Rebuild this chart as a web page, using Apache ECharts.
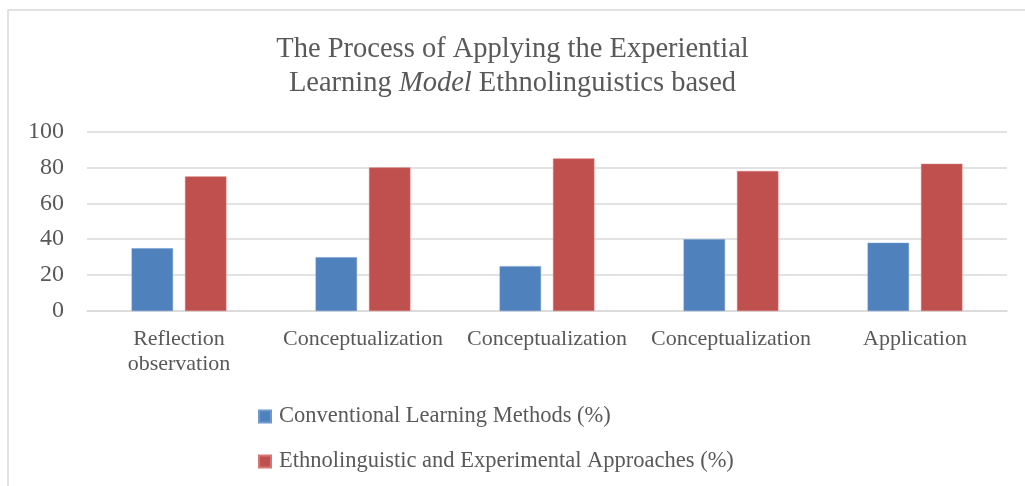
<!DOCTYPE html>
<html>
<head>
<meta charset="utf-8">
<script src="https://cdn.jsdelivr.net/npm/echarts@6/dist/echarts.min.js"></script>
<style>
html, body { margin: 0; padding: 0; background: #fff; }
#chart { width: 1025px; height: 486px; }
</style>
</head>
<body>
<div id="chart"></div>
<script>
var categories = ['Reflection\nobservation', 'Conceptualization', 'Conceptualization', 'Conceptualization', 'Application'];
var conventional = [35, 30, 25, 40, 38];
var ethnolinguistic = [75, 80, 85, 78, 82];
var seriesNames = ['Conventional Learning Methods (%)', 'Ethnolinguistic and Experimental Approaches (%)'];

var FONT = '"Liberation Serif", serif';
var TXT = '#595959';

var option = {
    animation: false,
    // frame of the chart area (goes off the right and bottom edge)
    graphic: [{
        type: 'rect',
        shape: { x: 8, y: 10, width: 1100, height: 600 },
        style: { fill: null, stroke: '#d9d9d9', lineWidth: 1.5 },
        silent: true
    }],
    title: {
        left: 'center',
        top: 28,
        text: '{a|The Process of Applying the Experiential}\n{a|Learning }{i|Model}{a| Ethnolinguistics based}',
        textStyle: {
            fontWeight: 'normal',
            rich: {
                a: { fontFamily: FONT, fontSize: 28.5, color: TXT, lineHeight: 34, fontWeight: 'normal' },
                i: { fontFamily: FONT, fontSize: 28.5, color: TXT, lineHeight: 34, fontWeight: 'normal', fontStyle: 'italic' }
            }
        }
    },
    legend: {
        orient: 'vertical',
        left: 253,
        top: 400,
        itemGap: 22,
        itemWidth: 12,
        itemHeight: 12,
        icon: 'rect',
        data: seriesNames,
        textStyle: { fontFamily: FONT, fontSize: 22.5, color: TXT, padding: [0, 0, 0, 3] }
    },
    grid: {
        left: 87,
        right: 18,
        top: 131.5,
        bottom: 175
    },
    xAxis: {
        type: 'category',
        data: categories,
        axisLine: { show: true, lineStyle: { color: '#d9d9d9', width: 1.5 } },
        axisTick: { show: false },
        axisLabel: {
            fontFamily: FONT, fontSize: 22, color: TXT, margin: 16,
            lineHeight: 25, interval: 0
        }
    },
    yAxis: {
        type: 'value',
        min: 0,
        max: 100,
        interval: 20,
        axisLine: { show: false },
        axisTick: { show: false },
        splitLine: { lineStyle: { color: '#d9d9d9', width: 1.5 } },
        axisLabel: { fontFamily: FONT, fontSize: 24, color: TXT, margin: 23 }
    },
    series: [
        {
            name: seriesNames[0],
            type: 'bar',
            data: conventional,
            barWidth: '22.5%',
            barGap: '29%',
            itemStyle: { color: '#4f81bd', borderColor: '#6f9ad0', borderWidth: 0.5 }
        },
        {
            name: seriesNames[1],
            type: 'bar',
            data: ethnolinguistic,
            barWidth: '22.5%',
            itemStyle: { color: '#c0504d', borderColor: '#d77773', borderWidth: 0.5 }
        }
    ]
};

var myChart = echarts.init(document.getElementById('chart'));
myChart.setOption(option);
</script>
</body>
</html>
